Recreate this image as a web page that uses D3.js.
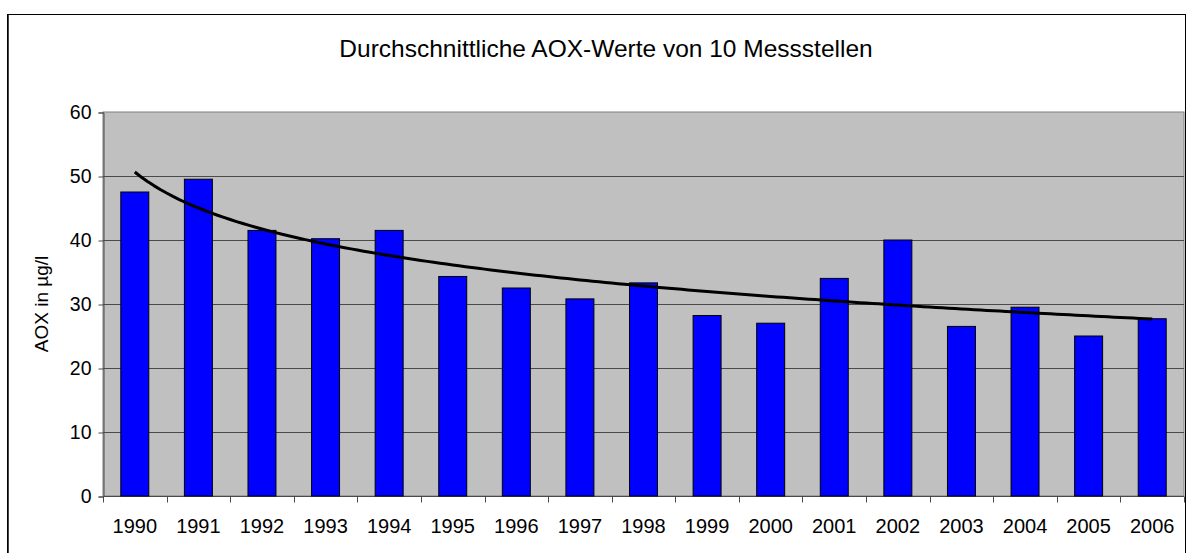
<!DOCTYPE html>
<html>
<head>
<meta charset="utf-8">
<script src="https://cdn.jsdelivr.net/npm/d3@7"></script>
<style>
  html, body { margin: 0; padding: 0; background: #fff; }
  svg { display: block; font-family: "Liberation Sans", Arial, sans-serif; }
</style>
</head>
<body>
<svg id="chart" width="1187" height="553"></svg>
<script>
const years = ["1990","1991","1992","1993","1994","1995","1996","1997","1998","1999","2000","2001","2002","2003","2004","2005","2006"];
const aoxValues = [47.5, 49.5, 41.5, 40.2, 41.5, 34.3, 32.5, 30.8, 33.3, 28.2, 27.0, 34.0, 40.0, 26.5, 29.5, 25.0, 27.7];
const yTicks = [0, 10, 20, 30, 40, 50, 60];
const titleText = "Durchschnittliche AOX-Werte von 10 Messstellen";
const yAxisTitle = "AOX in µg/l";

const svg = d3.select("#chart");
const W = 1187, H = 553;
const plot = { left: 103, right: 1184, top: 112, bottom: 496 };

svg.append("rect").attr("width", W).attr("height", H).attr("fill", "#fff");
// outer chart border
svg.append("rect").attr("x", 7.5).attr("y", 14.5).attr("width", 1178).attr("height", 620)
  .attr("fill", "none").attr("stroke", "#000").attr("stroke-width", 1);
svg.append("line").attr("x1", 8.5).attr("x2", 8.5).attr("y1", 15).attr("y2", H)
  .attr("stroke", "#444").attr("stroke-width", 1);

const x = d3.scaleBand().domain(years).range([plot.left, plot.right])
  .paddingInner(0.56).paddingOuter(0.28);
const y = d3.scaleLinear().domain([0, 60]).range([plot.bottom, plot.top]);
const step = x.step();

// plot background
svg.append("rect").attr("x", plot.left).attr("y", plot.top)
  .attr("width", plot.right - plot.left).attr("height", plot.bottom - plot.top)
  .attr("fill", "#C0C0C0").attr("stroke", "#808080").attr("stroke-width", 1);

// gridlines
svg.append("g").selectAll("line").data(yTicks.filter(d => d > 0 && d < 60)).join("line")
  .attr("x1", plot.left).attr("x2", plot.right)
  .attr("y1", d => Math.round(y(d)) + 0.5).attr("y2", d => Math.round(y(d)) + 0.5)
  .attr("stroke", "#4a4a4a").attr("stroke-width", 1);

// y axis
const yAxis = d3.axisLeft(y).tickValues(yTicks).tickSize(5).tickPadding(7).tickFormat(d3.format("d"));
const gy = svg.append("g").attr("transform", `translate(${plot.left + 0.5},0.5)`).call(yAxis);
gy.select(".domain").attr("stroke", "#4a4a4a");
gy.selectAll(".tick line").attr("stroke", "#4a4a4a");
gy.selectAll(".tick text").attr("font-size", "19.5px").attr("fill", "#000")
  .attr("font-family", "Liberation Sans, Arial, sans-serif");

// x axis: ticks at category boundaries
const gx = svg.append("g").attr("transform", `translate(0,${plot.bottom + 0.5})`);
gx.append("line").attr("x1", plot.left).attr("x2", plot.right).attr("stroke", "#4a4a4a");
const boundaries = d3.range(years.length + 1).map(i => plot.left + i * step);
gx.selectAll("line.tk").data(boundaries).join("line").attr("class", "tk")
  .attr("x1", d => Math.round(d) + 0.5).attr("x2", d => Math.round(d) + 0.5)
  .attr("y1", 0).attr("y2", 6).attr("stroke", "#4a4a4a");
gx.selectAll("text").data(years).join("text")
  .attr("x", d => x(d) + x.bandwidth() / 2).attr("y", 36)
  .attr("text-anchor", "middle").attr("font-size", "20px").attr("fill", "#000")
  .text(d => d);

// bars
svg.append("g").selectAll("rect").data(years).join("rect")
  .attr("x", d => x(d)).attr("width", x.bandwidth())
  .attr("y", (d, i) => y(aoxValues[i]))
  .attr("height", (d, i) => y(0) - y(aoxValues[i]))
  .attr("fill", "#0000FF").attr("stroke", "#000").attr("stroke-width", 1);

// logarithmic trendline (least-squares fit on ln(index))
const lx = aoxValues.map((v, i) => Math.log(i + 1));
const mx = d3.mean(lx), my = d3.mean(aoxValues);
const b = d3.sum(lx.map((v, i) => (v - mx) * (aoxValues[i] - my))) / d3.sum(lx.map(v => (v - mx) ** 2));
const a = my - b * mx;
const xc = d3.scaleLinear().domain([1, years.length])
  .range([x(years[0]) + x.bandwidth() / 2, x(years[years.length - 1]) + x.bandwidth() / 2]);
const trendPts = d3.range(1, years.length + 0.001, 0.1).map(t => [xc(t), y(a + b * Math.log(t))]);
svg.append("path").datum(trendPts)
  .attr("d", d3.line())
  .attr("fill", "none").attr("stroke", "#000").attr("stroke-width", 3)
  .attr("stroke-linejoin", "round");

// title
svg.append("text").attr("x", 606).attr("y", 57).attr("text-anchor", "middle")
  .attr("font-size", "24.5px").attr("fill", "#000").text(titleText);

// y axis title
svg.append("text").attr("transform", `translate(48,${(plot.top + plot.bottom) / 2}) rotate(-90)`)
  .attr("text-anchor", "middle").attr("font-size", "19px").attr("fill", "#000").text(yAxisTitle);
</script>
</body>
</html>
